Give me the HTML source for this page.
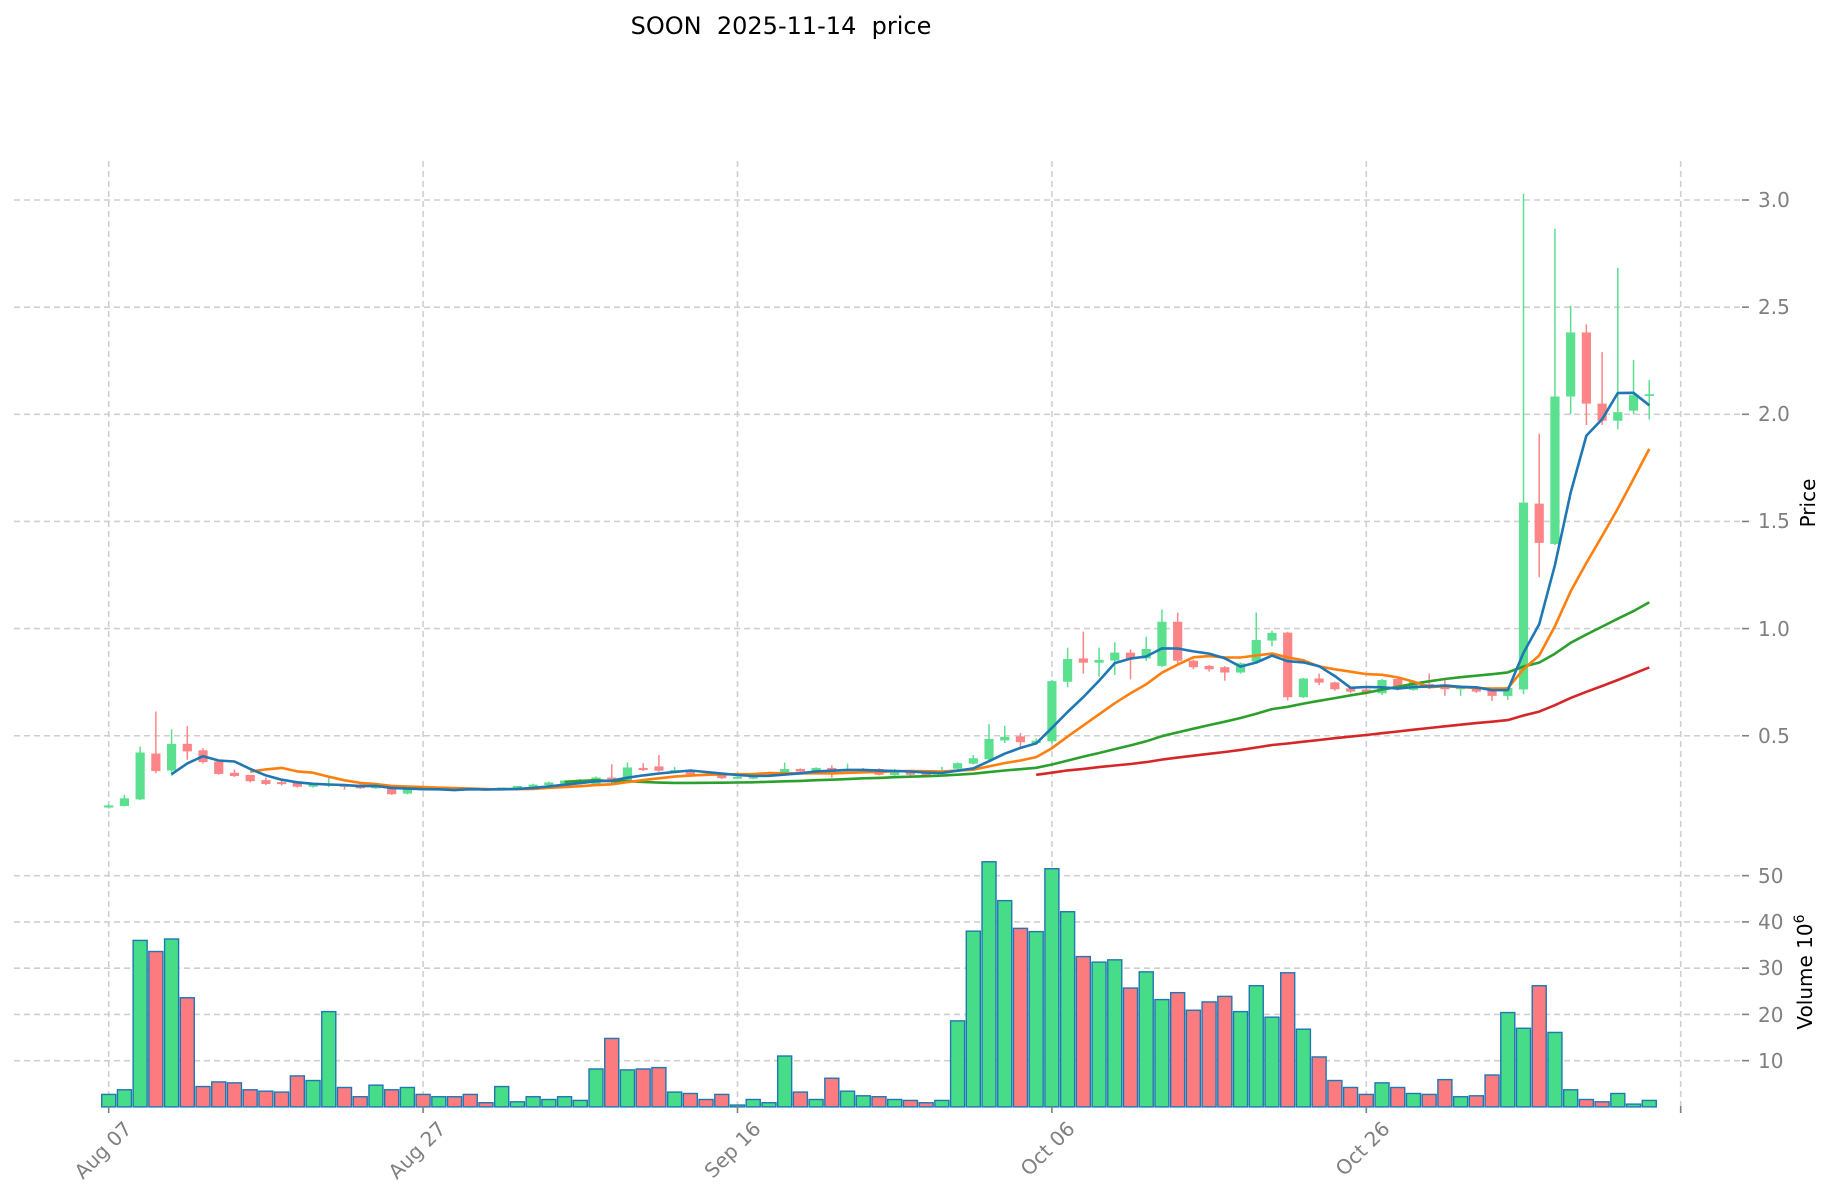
<!DOCTYPE html>
<html><head><meta charset="utf-8"><style>
html,body{margin:0;padding:0;background:#fff;}
svg{display:block;font-family:"DejaVu Sans","Liberation Sans",sans-serif;}
</style></head><body>
<svg id="c" width="1834" height="1202" viewBox="0 0 1834 1202" xmlns="http://www.w3.org/2000/svg">
<rect width="1834" height="1202" fill="#fff"/>
<g id="grid" stroke="#cfcfcf" stroke-width="1.6" stroke-dasharray="6,4" fill="none"></g>
<g id="vol"></g>
<g id="cand"></g>
<g id="ma" fill="none" stroke-width="2.6" stroke-linejoin="round"></g>
<g id="ticks" stroke="#808080" stroke-width="1.6"></g>
<text x="781" y="34" font-size="24" text-anchor="middle" fill="#000" xml:space="preserve">SOON  2025-11-14  price</text>
<g font-size="20" fill="#808080">
<text x="1758" y="207">3.0</text>
<text x="1758" y="314">2.5</text>
<text x="1758" y="421">2.0</text>
<text x="1758" y="528">1.5</text>
<text x="1758" y="636">1.0</text>
<text x="1758" y="743">0.5</text>
<text x="1758" y="883">50</text>
<text x="1758" y="929">40</text>
<text x="1758" y="975">30</text>
<text x="1758" y="1022">20</text>
<text x="1758" y="1068">10</text>
<text x="133" y="1130" text-anchor="end" transform="rotate(-45 133 1130)">Aug 07</text>
<text x="447" y="1130" text-anchor="end" transform="rotate(-45 447 1130)">Aug 27</text>
<text x="762" y="1130" text-anchor="end" transform="rotate(-45 762 1130)">Sep 16</text>
<text x="1076" y="1130" text-anchor="end" transform="rotate(-45 1076 1130)">Oct 06</text>
<text x="1391" y="1130" text-anchor="end" transform="rotate(-45 1391 1130)">Oct 26</text>
</g>
<text x="1815" y="503" font-size="20" fill="#000" text-anchor="middle" transform="rotate(-90 1815 503)">Price</text>
<text x="1812" y="972" font-size="20" fill="#000" text-anchor="middle" transform="rotate(-90 1812 972)">Volume  10<tspan dy="-8" font-size="14">6</tspan></text>
</svg>
<script>
var NS="http://www.w3.org/2000/svg";
function el(p,t,a){var e=document.createElementNS(NS,t);for(var k in a)e.setAttribute(k,a[k]);document.getElementById(p).appendChild(e);return e;}
var D=[
[.145,.155,.16,.14],[.152,.188,.205,.15],[.183,.422,.45,.18],[.417,.335,.613,.325],[.338,.462,.53,.313],
[.462,.427,.545,.388],[.432,.377,.442,.37],[.38,.322,.385,.318],[.327,.292,.342,.288],[.297,.268,.3,.262],
[.273,.255,.285,.25],[.26,.258,.275,.248],[.263,.242,.266,.238],[.242,.255,.26,.238],[.25,.252,.313,.24],
[.25,.242,.252,.228],[.252,.235,.254,.232],[.235,.247,.25,.232],[.238,.207,.24,.204],[.21,.235,.238,.207],
[.232,.23,.236,.226],[.23,.231,.236,.226],[.232,.229,.235,.225],[.23,.228,.233,.224],[.229,.227,.232,.223],
[.228,.235,.238,.225],[.235,.242,.245,.232],[.242,.252,.256,.24],[.25,.262,.266,.248],[.26,.267,.272,.257],
[.267,.272,.278,.264],[.272,.305,.31,.27],[.305,.285,.367,.28],[.285,.352,.375,.282],[.35,.34,.372,.335],
[.357,.337,.41,.332],[.33,.34,.355,.326],[.337,.32,.34,.316],[.319,.318,.325,.312],[.325,.302,.327,.298],
[.303,.305,.31,.3],[.3,.315,.318,.297],[.325,.326,.332,.32],[.33,.345,.375,.327],[.345,.333,.348,.33],
[.333,.35,.353,.33],[.35,.33,.362,.305],[.335,.345,.37,.332],[.335,.345,.35,.332],[.345,.318,.348,.315],
[.316,.34,.345,.313],[.337,.318,.34,.315],[.321,.32,.33,.305],[.326,.334,.355,.322],[.346,.372,.376,.343],
[.37,.395,.41,.366],[.39,.485,.555,.386],[.478,.495,.547,.466],[.497,.47,.512,.45],[.466,.477,.487,.462],
[.474,.755,.76,.465],[.752,.858,.911,.726],[.861,.841,.986,.79],[.841,.854,.911,.776],[.851,.888,.936,.784],
[.888,.86,.903,.763],[.861,.905,.962,.85],[.826,1.032,1.09,.82],[1.032,.85,1.075,.84],[.85,.82,.855,.81],
[.826,.81,.83,.8],[.82,.795,.825,.757],[.795,.838,.842,.79],[.846,.947,1.075,.84],[.944,.98,.99,.918],
[.981,.68,.985,.665],[.68,.767,.77,.676],[.767,.748,.79,.736],[.749,.717,.752,.71],[.721,.706,.725,.698],
[.716,.70,.72,.694],[.698,.76,.765,.69],[.765,.717,.77,.712],[.714,.753,.758,.71],[.742,.722,.79,.718],
[.74,.717,.77,.686],[.717,.732,.735,.686],[.729,.706,.732,.7],[.71,.686,.713,.662],[.686,.723,.728,.667],
[.716,1.588,3.03,.694],[1.583,1.40,1.91,1.24],[1.395,2.083,2.866,1.39],[2.083,2.382,2.507,2.0],[2.382,2.05,2.42,1.95],
[2.05,1.97,2.29,1.95],[1.97,2.01,2.684,1.93],[2.017,2.089,2.253,2.0],[2.089,2.09,2.16,1.976]];
for(var i=0;i<=30;i++){for(var k=0;k<4;k++){if(D[i][k]<0.3)D[i][k]+=0.02;}}
var V=[2.7,3.7,36,33.6,36.3,23.6,4.4,5.4,5.2,3.7,3.4,3.2,6.7,5.7,20.6,4.2,2.2,4.7,3.7,4.2,2.7,2.2,2.2,2.7,0.9,4.4,1.1,2.2,1.6,2.2,1.4,8.2,14.8,8,8.2,8.5,3.2,2.9,1.6,2.7,0.4,1.6,0.9,11,3.2,1.6,6.2,3.4,2.4,2.2,1.6,1.4,0.9,1.4,18.6,38,53,44.6,38.6,37.9,51.5,42.2,32.5,31.3,31.8,25.7,29.2,23.2,24.7,20.9,22.7,23.9,20.6,26.2,19.4,29,16.8,10.8,5.7,4.2,2.7,5.2,4.2,2.9,2.7,5.9,2.2,2.4,6.9,20.4,17,26.2,16.1,3.7,1.6,1.1,2.9,0.6,1.4];
function X(i){return 108.7+15.72*i;}
function Y(p){return 842.9-214.3*p;}
function VY(v){return 1106.9-4.625*v;}
[0.5,1,1.5,2,2.5,3].forEach(function(p){el("grid","line",{x1:14,x2:1742,y1:Y(p),y2:Y(p)});});
[10,20,30,40,50].forEach(function(v){el("grid","line",{x1:14,x2:1742,y1:VY(v),y2:VY(v)});});
[0,20,40,60,80,100].forEach(function(i){el("grid","line",{x1:X(i),x2:X(i),y1:161,y2:1106});});
[0.5,1,1.5,2,2.5,3].forEach(function(p){el("ticks","line",{x1:1742,x2:1749,y1:Y(p),y2:Y(p)});});
[10,20,30,40,50].forEach(function(v){el("ticks","line",{x1:1742,x2:1749,y1:VY(v),y2:VY(v)});});
[0,20,40,60,80,100].forEach(function(i){el("ticks","line",{x1:X(i),x2:X(i),y1:1106,y2:1113});});
for(var i=0;i<D.length;i++){var up=D[i][1]>=D[i][0];var y=VY(V[i]);
el("vol","rect",{x:X(i)-7,y:y,width:14,height:1106.9-y,fill:up?"#46dc88":"#fb7b7e",stroke:"#1f77b4","stroke-width":1.4});}
for(var i=0;i<D.length;i++){var d=D[i],up=d[1]>=d[0],col=up?"#5be090":"#fd8487";
el("cand","line",{x1:X(i),x2:X(i),y1:Y(d[2]),y2:Y(d[3]),stroke:col,"stroke-width":1.5});
var t=Y(Math.max(d[0],d[1])),b=Y(Math.min(d[0],d[1]));if(b-t<1.6){t-=0.8;b+=0.8;}
el("cand","rect",{x:X(i)-4.6,y:t,width:9.2,height:b-t,fill:col});}
function ma(n,c){var pts=[];for(var i=n-1;i<D.length;i++){var s=0;for(var j=i-n+1;j<=i;j++)s+=D[j][1];pts.push(X(i).toFixed(1)+","+Y(s/n).toFixed(1));}
el("ma","polyline",{points:pts.join(" "),stroke:c});}
ma(60,"#d62728");ma(30,"#2ca02c");ma(10,"#ff7f0e");ma(5,"#1f77b4");
</script>
</body></html>
